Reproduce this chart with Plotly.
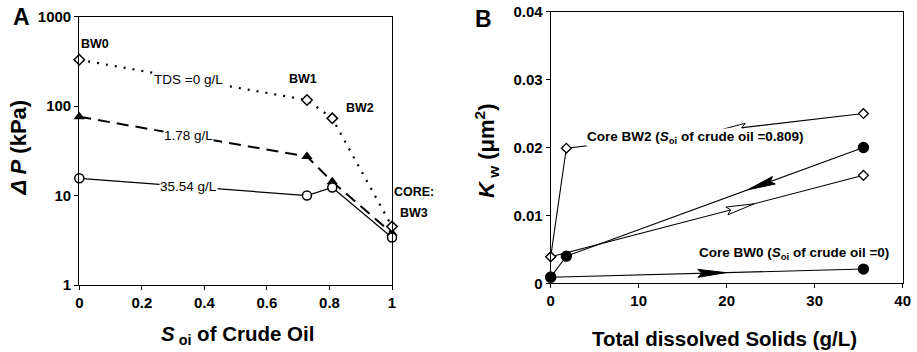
import math
import plotly.graph_objects as go

W, H = 917, 352
FONT = "Liberation Sans, Arial, sans-serif"

# ---------------- Panel A data ----------------
soi = [0, 0.728, 0.809, 1]
dp_tds0 = [330, 117, 73, 4.5]
dp_tds178 = [76, 27.3, 14.3, 3.8]
dp_tds3554 = [15.6, 10, 12.3, 3.4]
series_labels = ["TDS =0 g/L", "1.78 g/L", "35.54 g/L"]

# ---------------- Panel B data ----------------
bw2_up_tds = [0, 35.54]
bw2_up_kw = [0.0039, 0.0159]
bw2_down_tds = [35.54, 1.78, 0]
bw2_down_kw = [0.025, 0.0199, 0.0039]
bw0_up_tds = [0, 35.54]
bw0_up_kw = [0.0009, 0.0021]
bw0_down_tds = [35.54, 1.78, 0]
bw0_down_kw = [0.020, 0.0040, 0.0009]

xticks_a = [0, 0.2, 0.4, 0.6, 0.8, 1]
yticks_a = [1, 10, 100, 1000]
xticks_b = [0, 10, 20, 30, 40]
yticks_b = [0, 0.01, 0.02, 0.03, 0.04]

# ---------------- geometry (pixels) ----------------
A_L, A_R, A_T, A_B = 79.3, 392.0, 16.7, 285.0
B_L, B_R, B_T, B_B = 550.7, 902.7, 11.7, 283.3

def dom_x(l, r):
    return [l / W, r / W]

def dom_y(t, b):
    return [1 - b / H, 1 - t / H]

fig = go.Figure()

# Panel A traces
fig.add_trace(go.Scatter(
    x=soi, y=dp_tds178, xaxis="x", yaxis="y", mode="lines+markers",
    line=dict(color="black", width=2, dash="12px,7px"),
    marker=dict(symbol="triangle-up", size=10, color="black"),
    cliponaxis=False, showlegend=False))
fig.add_trace(go.Scatter(
    x=soi, y=dp_tds0, xaxis="x", yaxis="y", mode="lines+markers",
    line=dict(color="black", width=2.2, dash="2px,7px"),
    marker=dict(symbol="diamond", size=8, color="white",
                line=dict(color="black", width=1.5)),
    cliponaxis=False, showlegend=False))
fig.add_trace(go.Scatter(
    x=soi, y=dp_tds3554, xaxis="x", yaxis="y", mode="lines+markers",
    line=dict(color="black", width=1.2),
    marker=dict(symbol="circle", size=9, color="white",
                line=dict(color="black", width=1.5)),
    cliponaxis=False, showlegend=False))

# Panel B traces
for xs, ys, sym, fill, size in [
    (bw2_up_tds, bw2_up_kw, "diamond", "white", 7.5),
    (bw2_down_tds, bw2_down_kw, "diamond", "white", 7.5),
    (bw0_up_tds, bw0_up_kw, "circle", "black", 10),
    (bw0_down_tds, bw0_down_kw, "circle", "black", 10),
]:
    fig.add_trace(go.Scatter(
        x=xs, y=ys, xaxis="x2", yaxis="y2", mode="lines+markers",
        line=dict(color="black", width=1.1),
        marker=dict(symbol=sym, size=size, color=fill,
                    line=dict(color="black", width=1.3)),
        cliponaxis=False, showlegend=False))

# arrowheads on panel B segments (computed from the data)
kx = (B_R - B_L) / (xticks_b[-1] - xticks_b[0])
ky = (B_B - B_T) / (yticks_b[-1] - yticks_b[0])

def arrow(xs, ys, t, fill, length=28, width=8):
    sx0, sy0 = xs[0] * kx, ys[0] * ky
    sx1, sy1 = xs[1] * kx, ys[1] * ky
    dx, dy = sx1 - sx0, sy1 - sy0
    d = math.hypot(dx, dy)
    ux, uy = dx / d, dy / d
    nx, ny = -uy, ux
    tx, ty = sx0 + t * dx, sy0 + t * dy
    bx, by = tx - length * ux, ty - length * uy
    pts = [(tx, ty), (bx + nx * width / 2, by + ny * width / 2),
           (bx + ux * 4, by + uy * 4),
           (bx - nx * width / 2, by - ny * width / 2), (tx, ty)]
    fig.add_trace(go.Scatter(
        x=[p[0] / kx for p in pts], y=[p[1] / ky for p in pts],
        xaxis="x2", yaxis="y2", mode="lines", fill="toself",
        fillcolor=fill, line=dict(color="black", width=1),
        showlegend=False, hoverinfo="skip"))

arrow(bw0_up_tds, bw0_up_kw, 0.56, "black")
arrow(bw0_down_tds[:2], bw0_down_kw[:2], 0.39, "black")
arrow(bw2_up_tds, bw2_up_kw, 0.65, "white")
arrow(bw2_down_tds[:2], bw2_down_kw[:2], 0.49, "white")

annotations = []

# line labels on panel A (placed on the first segment of each curve)
def on_line(ys, lx):
    l0, l1 = math.log10(ys[0]), math.log10(ys[1])
    return 10 ** (l0 + (lx - soi[0]) / (soi[1] - soi[0]) * (l1 - l0))

for ys, txt in zip([dp_tds0, dp_tds178, dp_tds3554], series_labels):
    lx = 0.348
    annotations.append(dict(
        x=lx, y=math.log10(on_line(ys, lx)), xref="x", yref="y", text=txt,
        showarrow=False, bgcolor="white", borderpad=0,
        font=dict(family=FONT, size=13.5, color="black")))

bold12 = dict(family=FONT, size=12.5, color="black")
annotations += [
    dict(x=soi[0], y=math.log10(dp_tds0[0]), xref="x", yref="y", text="<b>BW0</b>",
         showarrow=False, xanchor="left", xshift=0, yshift=16, font=bold12),
    dict(x=soi[1], y=math.log10(dp_tds0[1]), xref="x", yref="y", text="<b>BW1</b>",
         showarrow=False, xshift=-4, yshift=21, font=bold12),
    dict(x=soi[2], y=math.log10(dp_tds0[2]), xref="x", yref="y", text="<b>BW2</b>",
         showarrow=False, xanchor="left", xshift=12, yshift=10, font=bold12),
    dict(x=soi[3], y=math.log10(dp_tds0[3]), xref="x", yref="y", text="<b>CORE:</b>",
         showarrow=False, xanchor="left", xshift=0, yshift=35, font=bold12),
    dict(x=soi[3], y=math.log10(dp_tds0[3]), xref="x", yref="y", text="<b>BW3</b>",
         showarrow=False, xanchor="left", xshift=6, yshift=14, font=bold12),
]

# panel B core labels
bold13 = dict(family=FONT, size=13.5, color="black")
annotations += [
    dict(x=16.45, y=0.0214, xref="x2", yref="y2",
         text="<b>Core BW2 (<i>S</i><sub>oi</sub> of crude oil =0.809)</b>",
         showarrow=False, bgcolor="white", borderpad=0, font=bold13),
    dict(x=27.6, y=0.00446, xref="x2", yref="y2",
         text="<b>Core BW0 (<i>S</i><sub>oi</sub> of crude oil =0)</b>",
         showarrow=False, font=bold13),
]

# panel letters and axis titles (paper coordinates)
def paper(px, py):
    return px / W, 1 - py / H

for txt, (px_, py_), size, angle in [
    ("<b>A</b>", (21.5, 16.5), 23, 0),
    ("<b>B</b>", (483.5, 18.5), 23, 0),
    ("<b><i>S</i><sub> oi</sub> of Crude Oil</b>", (237, 335), 20.5, 0),
    ("<b>Total dissolved Solids (g/L)</b>", (724, 338), 20.5, 0),
    ("<b><i>Δ P</i> (kPa)</b>", (17.5, 148), 22, -90),
    ("<b><i>K</i><sub> w</sub> (μm<sup>2</sup>)</b>", (486, 150), 22, -90),
]:
    x_, y_ = paper(px_, py_)
    annotations.append(dict(x=x_, y=y_, xref="paper", yref="paper", text=txt,
                            showarrow=False, textangle=angle,
                            xanchor="center", yanchor="middle",
                            font=dict(family=FONT, size=size, color="black")))

tickfont = dict(family=FONT, size=15, color="black", weight="bold")
axis_common = dict(showgrid=False, zeroline=False, showline=True, linecolor="black",
                   linewidth=1.2, mirror=True, ticks="outside", ticklen=4,
                   tickcolor="black", tickwidth=1, tickfont=tickfont,
                   automargin=False)

fig.update_layout(
    width=W, height=H, margin=dict(l=0, r=0, t=0, b=0, pad=0),
    paper_bgcolor="white", plot_bgcolor="white",
    xaxis=dict(domain=dom_x(A_L, A_R), anchor="y", range=[0, 1],
               tickvals=xticks_a, ticktext=[f"{v:g}" for v in xticks_a], **axis_common),
    yaxis=dict(domain=dom_y(A_T, A_B), anchor="x", type="log", range=[0, 3],
               tickvals=yticks_a, ticktext=[str(v) for v in yticks_a], **axis_common),
    xaxis2=dict(domain=dom_x(B_L, B_R), anchor="y2", range=[0, 40],
                tickvals=xticks_b, ticktext=[str(v) for v in xticks_b], **axis_common),
    yaxis2=dict(domain=dom_y(B_T, B_B), anchor="x2", range=[0, 0.04],
                tickvals=yticks_b, ticktext=[f"{v:g}" for v in yticks_b], **axis_common),
    annotations=annotations,
)

fig.write_html("out.html",
               config={"displayModeBar": False},
               post_script="document.body.style.margin='0';"
                           "document.body.style.overflow='hidden';")
